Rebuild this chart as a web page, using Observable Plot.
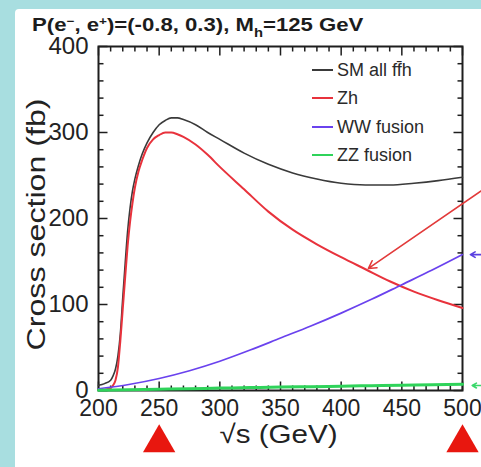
<!DOCTYPE html>
<html>
<head>
<meta charset="utf-8">
<script src="https://cdn.jsdelivr.net/npm/d3@7"></script>
<script src="https://cdn.jsdelivr.net/npm/@observablehq/plot@0.6"></script>
<style>
  html, body { margin: 0; padding: 0; }
  body { width: 481px; height: 467px; overflow: hidden; position: relative; background: #a8dee0; font-family: "Liberation Sans", Arial, Helvetica, sans-serif; }
  #panel { position: absolute; left: 15px; top: 9px; right: 0; bottom: 0; background: #fff; border-top-left-radius: 4px; }
  #chart { position: absolute; left: 0; top: 0; }
  #title { position: absolute; left: 32px; top: 16px; font-size: 18px; line-height: 18px; font-weight: bold; color: #1c1c1c; white-space: nowrap; transform: scaleX(1.23); transform-origin: left center; }
  #title sup { font-size: 11px; line-height: 0; vertical-align: 6px; }
  #title sub { font-size: 12px; line-height: 0; vertical-align: -6px; }
  .leg { position: absolute; font-size: 18px; line-height: 20px; color: #2a2a2a; white-space: nowrap; }
  .legline { position: absolute; height: 2px; width: 21px; }
</style>
</head>
<body>
<div id="panel"></div>
<div id="chart"></div>
<div id="title">P(e<sup>−</sup>, e<sup>+</sup>)=(-0.8, 0.3), M<sub>h</sub>=125 GeV</div>
<div id="legend"></div>
<script>
// ---- data ----
const energyFine = [200, 205, 210, 212, 214, 216, 218, 220, 222, 224, 226, 228, 230, 233, 236, 240, 245, 250, 255, 260, 265, 270, 280, 290, 300, 320, 340, 360, 380, 400, 420, 440, 460, 480, 500];
const smAllValues = [6, 8, 12, 17, 25, 40, 66, 108, 148, 185, 212, 232, 246, 262, 275, 288, 300, 309, 314, 317, 317, 315, 309, 300, 292, 276, 263, 253, 246, 241, 239, 239, 241, 244, 248];
const zhValues = [0.5, 1, 3, 6, 12, 27, 58, 95, 132, 168, 196, 218, 236, 255, 268, 282, 292, 297, 300, 300, 298, 295, 286, 274, 260, 234, 208, 187, 170, 155, 141, 127, 115, 105, 96];

const energyCoarse = [200, 225, 250, 275, 300, 325, 350, 375, 400, 425, 450, 475, 500];
const wwFusionValues = [2, 7, 14, 23, 34, 47, 61, 75, 90, 106, 123, 140, 158];
const zzFusionValues = [0.3, 0.9, 1.5, 2.1, 2.8, 3.4, 4, 4.5, 5, 5.6, 6.2, 6.7, 7.2];

const seriesNames = ["SM all ff\u0304h", "Zh", "WW fusion", "ZZ fusion"];
const seriesColors = ["#3a3a3a", "#e8323c", "#6a42ee", "#2fd35a"];

const xTickValues = [200, 250, 300, 350, 400, 450, 500];
const yTickValues = [0, 100, 200, 300, 400];
const xMinorTicks = d3.range(200, 501, 10).filter(v => v % 50 !== 0);
const yMinorTicks = d3.range(0, 401, 20).filter(v => v % 100 !== 0);

const xLabel = "\u221As (GeV)";
const yLabel = "Cross section (fb)";

// annotation arrows (pointing in from the right edge)
const arrowX1 = [520, 520, 520];
const arrowY1 = [236.7, 158, 5.8];
const arrowX2 = [422.5, 506.5, 508];
const arrowY2 = [141.9, 158, 5.8];
const arrowColors = ["#e23a3a", "#5a40e0", "#3ad86a"];

// run energies marked with triangles
const runEnergies = [250, 500];

// ---- build tables ----
const fineRows = energyFine.map((e, i) => ({e, sm: smAllValues[i], zh: zhValues[i]}));
const coarseRows = energyCoarse.map((e, i) => ({e, ww: wwFusionValues[i], zz: zzFusionValues[i]}));
const arrowRows = arrowX1.map((x1, i) => ({x1, y1: arrowY1[i], x2: arrowX2[i], y2: arrowY2[i], c: arrowColors[i]}));

const tickSym = (dx, dy) => ({draw(ctx) { ctx.moveTo(0, 0); ctx.lineTo(dx, dy); }});
const axisColor = "#1e1e1e";
const MAJ = 9, MIN = 5;

const chart = Plot.plot({
  width: 481,
  height: 467,
  marginLeft: 98,
  marginRight: 19,
  marginTop: 46,
  marginBottom: 77,
  x: {domain: [200, 500]},
  y: {domain: [0, 400]},
  style: {background: "transparent", fontFamily: "'Liberation Sans', Arial, sans-serif", color: "#222"},
  marks: [
    Plot.axisX({ticks: xTickValues, tickSize: 0, tickPadding: 9, fontSize: 23, label: null, tickFormat: d => String(d)}),
    Plot.axisY({ticks: yTickValues, tickSize: 0, tickPadding: 10, fontSize: 24, label: null, tickFormat: d => String(d)}),
    // inward ticks on four sides
    Plot.dot(xTickValues, {x: d => d, y: () => 0, symbol: tickSym(0, -MAJ), r: 3, fill: "none", stroke: axisColor, strokeWidth: 1.5}),
    Plot.dot(xMinorTicks, {x: d => d, y: () => 0, symbol: tickSym(0, -MIN), r: 3, fill: "none", stroke: axisColor, strokeWidth: 1.5}),
    Plot.dot(xTickValues, {x: d => d, y: () => 400, symbol: tickSym(0, MAJ), r: 3, fill: "none", stroke: axisColor, strokeWidth: 1.5}),
    Plot.dot(xMinorTicks, {x: d => d, y: () => 400, symbol: tickSym(0, MIN), r: 3, fill: "none", stroke: axisColor, strokeWidth: 1.5}),
    Plot.dot(yTickValues, {y: d => d, x: () => 200, symbol: tickSym(MAJ, 0), r: 3, fill: "none", stroke: axisColor, strokeWidth: 1.5}),
    Plot.dot(yMinorTicks, {y: d => d, x: () => 200, symbol: tickSym(MIN, 0), r: 3, fill: "none", stroke: axisColor, strokeWidth: 1.5}),
    Plot.dot(yTickValues, {y: d => d, x: () => 500, symbol: tickSym(-MAJ, 0), r: 3, fill: "none", stroke: axisColor, strokeWidth: 1.5}),
    Plot.dot(yMinorTicks, {y: d => d, x: () => 500, symbol: tickSym(-MIN, 0), r: 3, fill: "none", stroke: axisColor, strokeWidth: 1.5}),
    Plot.frame({stroke: axisColor, strokeWidth: 2}),
    // curves
    Plot.line(fineRows, {x: "e", y: "sm", curve: "monotone-x", stroke: seriesColors[0], strokeWidth: 1.6}),
    Plot.line(fineRows, {x: "e", y: "zh", curve: "monotone-x", stroke: seriesColors[1], strokeWidth: 2}),
    Plot.line(coarseRows, {x: "e", y: "ww", curve: "monotone-x", stroke: seriesColors[2], strokeWidth: 1.7}),
    Plot.line(coarseRows, {x: "e", y: "zz", curve: "monotone-x", stroke: seriesColors[3], strokeWidth: 3}),
    // annotation arrows
    Plot.arrow(arrowRows, {x1: "x1", y1: "y1", x2: "x2", y2: "y2", stroke: "c", strokeWidth: 1.6, headLength: 8}),
    // red triangles under the axis
    Plot.dot(runEnergies, {x: d => d, frameAnchor: "bottom", dy: 52.5, symbol: "triangle", r: 12, fill: "#e8170f", stroke: "none"}),
    // axis titles
    Plot.text([xLabel], {frameAnchor: "bottom", text: d => d, dy: 52, dx: -2, fontSize: 26, fill: "#222"}),
    Plot.text([yLabel], {frameAnchor: "bottom-left", text: d => d, rotate: -90, textAnchor: "start", dx: -54, dy: -40, fontSize: 25, fill: "#222"})
  ]
});
document.getElementById("chart").appendChild(chart);

// stretch axis titles to the reference's wide lettering
d3.select(chart).selectAll("text").each(function() {
  const t = this.textContent;
  if (t === yLabel) d3.select(this).attr("textLength", 252).attr("lengthAdjust", "spacingAndGlyphs");
  if (t === xLabel) d3.select(this).attr("textLength", 118).attr("lengthAdjust", "spacingAndGlyphs");
});

// legend
const legendTop = [70, 98, 127, 155];
const legend = document.getElementById("legend");
seriesNames.forEach((name, i) => {
  const ln = document.createElement("div");
  ln.className = "legline";
  ln.style.left = "312px";
  ln.style.top = (legendTop[i] - 1) + "px";
  ln.style.background = seriesColors[i];
  legend.appendChild(ln);
  const tx = document.createElement("div");
  tx.className = "leg";
  tx.style.left = "337px";
  tx.style.top = (legendTop[i] - 10) + "px";
  tx.textContent = name;
  legend.appendChild(tx);
});
</script>
</body>
</html>
